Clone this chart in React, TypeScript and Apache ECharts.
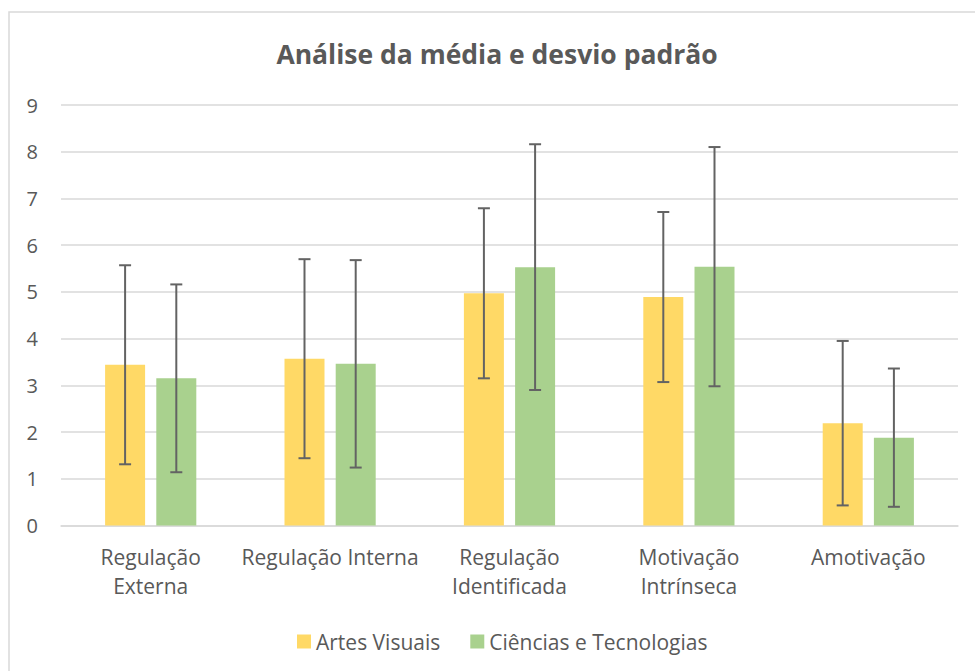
import React, { useEffect, useRef } from "react";
import * as echarts from "echarts";

const categories = [
  "Regulação\nExterna",
  "Regulação Interna",
  "Regulação\nIdentificada",
  "Motivação\nIntrínseca",
  "Amotivação",
];
const seriesNames = ["Artes Visuais", "Ciências e Tecnologias"];
const artesMean = [3.44, 3.57, 4.97, 4.89, 2.19];
const artesSD = [2.13, 2.13, 1.82, 1.82, 1.76];
const cienciasMean = [3.15, 3.46, 5.53, 5.54, 1.88];
const cienciasSD = [2.01, 2.22, 2.63, 2.56, 1.48];
const yTicks = [0, 1, 2, 3, 4, 5, 6, 7, 8, 9];

const FONT = "Open Sans";
const TEXT = "#595959";
const BAR_W = 40;
const BAR_GAP = 0.28;

function errorSeries(name: string, mean: number[], sd: number[], sign: number) {
  const data = mean.map((m, i) => [i, m - sd[i], m + sd[i]]);
  return {
    type: "custom",
    name: name + " (dp)",
    z: 10,
    data,
    encode: { x: 0, y: [1, 2] },
    renderItem: (params: any, api: any) => {
      const idx = api.value(0);
      const lo = api.coord([idx, api.value(1)]);
      const hi = api.coord([idx, api.value(2)]);
      const off = sign * (BAR_W + BAR_W * BAR_GAP) / 2;
      const x = lo[0] + off;
      const cap = 6;
      const style = { stroke: "#636363", lineWidth: 2 };
      return {
        type: "group",
        children: [
          { type: "line", shape: { x1: x, y1: lo[1], x2: x, y2: hi[1] }, style },
          { type: "line", shape: { x1: x - cap, y1: lo[1], x2: x + cap, y2: lo[1] }, style },
          { type: "line", shape: { x1: x - cap, y1: hi[1], x2: x + cap, y2: hi[1] }, style },
        ],
      };
    },
  };
}

export default function App() {
  const ref = useRef<HTMLDivElement>(null);
  useEffect(() => {
    if (!ref.current) return;
    const chart = echarts.init(ref.current, undefined, { renderer: "svg" });
    chart.setOption({
      animation: false,
      backgroundColor: "#ffffff",
      title: {
        text: "Análise da média e desvio padrão",
        left: 492,
        textAlign: "center",
        top: 35,
        textStyle: { fontFamily: FONT, fontSize: 26.5, fontWeight: "bold", color: TEXT },
      },
      graphic: [
        {
          type: "rect",
          shape: { x: 9, y: 12, width: 1100, height: 800 },
          style: { fill: "none", stroke: "#d9d9d9", lineWidth: 1.5 },
          silent: true,
        },
      ],
      legend: {
        data: seriesNames,
        left: 292,
        top: 626,
        itemWidth: 14,
        itemHeight: 14,
        itemGap: 30,
        icon: "rect",
        textStyle: { fontFamily: FONT, fontSize: 21, color: TEXT, padding: [0, 0, 0, 0] },
      },
      grid: { left: 61, right: 17, top: 105, bottom: 145.5, containLabel: false },
      xAxis: {
        type: "category",
        data: categories,
        axisLine: { lineStyle: { color: "#d9d9d9", width: 1.5 } },
        axisTick: { show: false },
        axisLabel: {
          fontFamily: FONT,
          fontSize: 21,
          color: TEXT,
          margin: 17,
          lineHeight: 29,
          interval: 0,
        },
      },
      yAxis: {
        type: "value",
        min: yTicks[0],
        max: yTicks[yTicks.length - 1],
        interval: 1,
        axisLine: { show: false },
        axisTick: { show: false },
        splitLine: { lineStyle: { color: "#d9d9d9", width: 1.5 } },
        axisLabel: { fontFamily: FONT, fontSize: 20, color: TEXT, margin: 23 },
      },
      series: [
        {
          type: "bar",
          name: seriesNames[0],
          data: artesMean,
          barWidth: BAR_W,
          barGap: BAR_GAP * 100 + "%",
          itemStyle: { color: "#FFD966" },
        },
        {
          type: "bar",
          name: seriesNames[1],
          data: cienciasMean,
          barWidth: BAR_W,
          barGap: BAR_GAP * 100 + "%",
          itemStyle: { color: "#A9D18E" },
        },
        errorSeries(seriesNames[0], artesMean, artesSD, -1),
        errorSeries(seriesNames[1], cienciasMean, cienciasSD, 1),
      ],
    });
    return () => chart.dispose();
  }, []);
  return (
    <div
      ref={ref}
      style={{ position: "fixed", left: 0, top: 0, width: 975, height: 671 }}
    />
  );
}
